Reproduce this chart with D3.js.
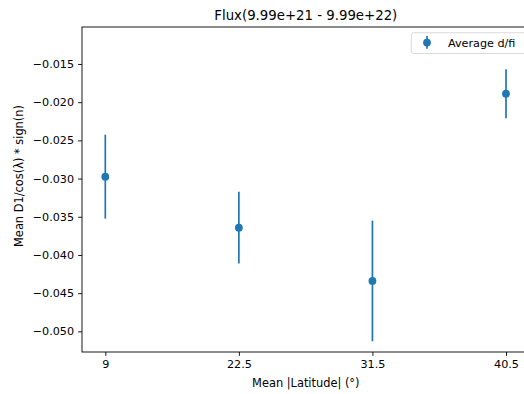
<!DOCTYPE html>
<html><head><meta charset="utf-8">
<script src="https://cdn.jsdelivr.net/npm/d3@7/dist/d3.min.js"></script>
<style>body{margin:0;background:#fff}svg{display:block;font-family:"DejaVu Sans",sans-serif}</style>
</head><body><svg id="c" width="524" height="394"></svg>
<script>
const categories = ["9", "22.5", "31.5", "40.5"];
const means = [-0.02975, -0.03643, -0.0434, -0.01889];
const errors = [0.0055, 0.0047, 0.0079, 0.0032];
const yTicks = [-0.015, -0.020, -0.025, -0.030, -0.035, -0.040, -0.045, -0.050];
const title = "Flux(9.99e+21 - 9.99e+22)";
const xLabel = "Mean |Latitude| (°)";
const yLabel = "Mean D1/cos(λ) * sign(n)";
const legendLabel = "Average d/fi";

const color = "#1f77b4";
const L = 82, R = 529.6, T = 27, B = 352;
const svg = d3.select("#c");

const x = d3.scalePoint().domain(categories).range([105.3, 506]);
const y = d3.scaleLinear().domain([-0.0527, -0.01016]).range([B, T]);

const fmt = d => d3.format(".3f")(d).replace("-", "\u2212");

// x axis
const xa = svg.append("g").attr("transform", `translate(0,${B})`)
  .call(d3.axisBottom(x).tickSize(3.9).tickPadding(4).tickSizeOuter(0));
xa.select(".domain").remove();
xa.selectAll("text").attr("font-size", 11.2).attr("fill", "#000").attr("font-family", "DejaVu Sans");
xa.selectAll("line").attr("stroke", "#000").attr("stroke-width", 0.9);

// y axis
const ya = svg.append("g").attr("transform", `translate(${L},0)`)
  .call(d3.axisLeft(y).tickValues(yTicks).tickFormat(fmt).tickSize(3.9).tickPadding(4).tickSizeOuter(0));
ya.select(".domain").remove();
ya.selectAll("text").attr("font-size", 11.2).attr("fill", "#000").attr("font-family", "DejaVu Sans");
ya.selectAll("line").attr("stroke", "#000").attr("stroke-width", 0.9);

// spines
svg.append("rect").attr("x", L).attr("y", T).attr("width", R - L).attr("height", B - T)
  .attr("fill", "none").attr("stroke", "#000").attr("stroke-width", 0.9);

// error bars
const g = svg.append("g");
categories.forEach((c, i) => {
  g.append("line").attr("x1", x(c)).attr("x2", x(c))
    .attr("y1", y(means[i] + errors[i])).attr("y2", y(means[i] - errors[i]))
    .attr("stroke", color).attr("stroke-width", 1.7);
  g.append("circle").attr("cx", x(c)).attr("cy", y(means[i])).attr("r", 3.9).attr("fill", color);
});

// title
svg.append("text").attr("x", (L + R) / 2).attr("y", 20).attr("text-anchor", "middle")
  .attr("font-size", 13.3).text(title);
// axis labels
svg.append("text").attr("x", (L + R) / 2).attr("y", 386.5).attr("text-anchor", "middle")
  .attr("font-size", 11.4).text(xLabel);
svg.append("text").attr("transform", "translate(23,176) rotate(-90)").attr("text-anchor", "middle")
  .attr("font-size", 11.4).text(yLabel);

// legend
const lg = svg.append("g");
lg.append("rect").attr("x", 411.3).attr("y", 32.7).attr("width", 130).attr("height", 20.8)
  .attr("rx", 2.5).attr("fill", "#fff").attr("fill-opacity", 0.8).attr("stroke", "#d6d6d6").attr("stroke-width", 0.9);
lg.append("line").attr("x1", 427).attr("x2", 427).attr("y1", 36).attr("y2", 48.7)
  .attr("stroke", color).attr("stroke-width", 1.7);
lg.append("circle").attr("cx", 427).attr("cy", 42.6).attr("r", 3.9).attr("fill", color);
lg.append("text").attr("x", 448).attr("y", 46.7).attr("font-size", 11.2).text(legendLabel);
</script></body></html>
